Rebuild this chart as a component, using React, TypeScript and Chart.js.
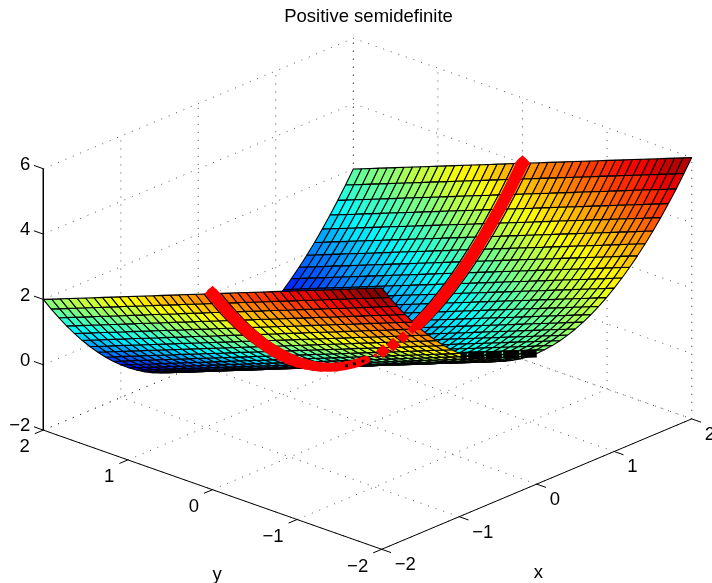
import React, { useEffect, useRef } from "react";
import { Chart, registerables } from "chart.js";

Chart.register(...registerables);

const titleText = "Positive semidefinite";
const xLabelText = "x";
const yLabelText = "y";

const xGrid = [-2,-1.9,-1.8,-1.7,-1.6,-1.5,-1.4,-1.3,-1.2,-1.1,-1,-0.9,-0.8,-0.7,-0.6,-0.5,-0.4,-0.3,-0.2,-0.1,0,0.1,0.2,0.3,0.4,0.5,0.6,0.7,0.8,0.9,1,1.1,1.2,1.3,1.4,1.5,1.6,1.7,1.8,1.9,2];
const yGrid = [-2,-1.9,-1.8,-1.7,-1.6,-1.5,-1.4,-1.3,-1.2,-1.1,-1,-0.9,-0.8,-0.7,-0.6,-0.5,-0.4,-0.3,-0.2,-0.1,0,0.1,0.2,0.3,0.4,0.5,0.6,0.7,0.8,0.9,1,1.1,1.2,1.3,1.4,1.5,1.6,1.7,1.8,1.9,2];
// Height of the trough read along y = 0, for each entry of xGrid.
const troughProfile = [4,3.61,3.24,2.89,2.56,2.25,1.96,1.69,1.44,1.21,1,0.81,0.64,0.49,0.36,0.25,0.16,0.09,0.04,0.01,0,0.01,0.04,0.09,0.16,0.25,0.36,0.49,0.64,0.81,1,1.21,1.44,1.69,1.96,2.25,2.56,2.89,3.24,3.61,4];
// Rise of the surface for each entry of yGrid.
const tiltProfile = [2,1.9,1.8,1.7,1.6,1.5,1.4,1.3,1.2,1.1,1,0.9,0.8,0.7,0.6,0.5,0.4,0.3,0.2,0.1,0,-0.1,-0.2,-0.3,-0.4,-0.5,-0.6,-0.7,-0.8,-0.9,-1,-1.1,-1.2,-1.3,-1.4,-1.5,-1.6,-1.7,-1.8,-1.9,-2];

const xTicks = [-2, -1, 0, 1, 2];
const yTicks = [-2, -1, 0, 1, 2];
const zTicks = [-2, 0, 2, 4, 6];

// Red curve (on y = 0): visible stretches, by x.
const redFrontXs = [-2,-1.9,-1.8,-1.7,-1.6,-1.5,-1.4,-1.3,-1.2,-1.1,-1,-0.9,-0.8,-0.7,-0.6,-0.5,-0.4,-0.3,-0.2,-0.1,-0.02];
const redFrontZs = [4,3.61,3.24,2.89,2.56,2.25,1.96,1.69,1.44,1.21,1,0.81,0.64,0.49,0.36,0.25,0.16,0.09,0.04,0.01,0];
const redFrontWidths = [12,12,12,12,12,12,12,12,12,11.5,11,10.5,10,9.5,9,9,8.5,8.5,8.5,8,8];
const redFragmentXs = [0.1,0.2,0.33,0.46,0.58];
const redFragmentZs = [0.01,0.04,0.11,0.21,0.34];
const redFragmentSizes = [2.5,7,7,6,5];
const redBackXs = [0.65,0.7,0.8,0.9,1,1.1,1.2,1.3,1.4,1.5,1.6,1.7,1.8,1.9,2];
const redBackZs = [0.42,0.49,0.64,0.81,1,1.21,1.44,1.69,1.96,2.25,2.56,2.89,3.24,3.61,4];
// Dark specks left in the red band near the bottom of the trough, by x.
const speckXs = [-0.27,-0.17,-0.06];
const speckZs = [0.07,0.03,0];

// Black line (on x = 0): the visible end of it, by y.
const blackYs = [-2,-1.8,-1.6,-1.4,-1.2,-1.1];
const blackZs = [2,1.8,1.6,1.4,1.2,1.1];

const FONT = '"Liberation Sans", Arial, sans-serif';

function project(x: number, y: number, z: number) {
  return {
    x: 381.7 + 77.5 * (x + 2) - 84.6 * (y + 2),
    y: 549.3 - 32.6 * (x + 2) - 29.8 * (y + 2) - 32.67 * (z + 2),
  };
}

function jet(v: number) {
  const t = (Math.min(63, Math.floor(Math.max(0, v) * 64)) + 0.5) / 64;
  const c = (p: number) => Math.round(255 * Math.max(0, Math.min(1, 1.5 - Math.abs(4 * t - p))));
  return `rgb(${c(3)},${c(2)},${c(1)})`;
}

function lineSet(points: { x: number; y: number }[], extra: object) {
  return {
    type: "scatter",
    data: points,
    showLine: true,
    pointRadius: 0,
    borderColor: "#000",
    borderWidth: 1,
    fill: false,
    tension: 0,
    clip: false,
    ...extra,
  };
}

function buildDatasets() {
  const paint: any[] = [];
  const dots = { borderColor: "rgba(0,0,0,0.85)", borderWidth: 0.8, borderDash: [1, 7] };

  // floor grid
  for (const x of xTicks) paint.push(lineSet([project(x, -2, -2), project(x, 2, -2)], dots));
  for (const y of yTicks) paint.push(lineSet([project(-2, y, -2), project(2, y, -2)], dots));
  // back walls
  for (const x of xTicks) paint.push(lineSet([project(x, 2, -2), project(x, 2, 6)], dots));
  for (const y of yTicks) paint.push(lineSet([project(2, y, -2), project(2, y, 6)], dots));
  for (const z of zTicks) {
    paint.push(lineSet([project(-2, 2, z), project(2, 2, z), project(2, -2, z)], dots));
  }

  // axis lines and tick marks
  const axis = { borderWidth: 1 };
  paint.push(lineSet([project(-2, 2, 6), project(-2, 2, -2), project(-2, -2, -2), project(2, -2, -2)], axis));
  for (const z of zTicks) paint.push(lineSet([project(-2, 2, z), project(-2, 2.11, z)], axis));
  for (const y of yTicks) paint.push(lineSet([project(-2, y, -2), project(-2.11, y, -2)], axis));
  for (const x of xTicks) paint.push(lineSet([project(x, -2, -2), project(x, -2.11, -2)], axis));

  // surface: far cells first
  for (let i = xGrid.length - 2; i >= 0; i--) {
    for (let j = yGrid.length - 2; j >= 0; j--) {
      const z = (a: number, b: number) => troughProfile[a] + tiltProfile[b];
      const corners = [
        project(xGrid[i], yGrid[j], z(i, j)),
        project(xGrid[i + 1], yGrid[j], z(i + 1, j)),
        project(xGrid[i + 1], yGrid[j + 1], z(i + 1, j + 1)),
        project(xGrid[i], yGrid[j + 1], z(i, j + 1)),
        project(xGrid[i], yGrid[j], z(i, j)),
      ];
      paint.push(
        lineSet(corners, {
          fill: "shape",
          backgroundColor: jet((z(i, j) + 2) / 8),
          borderWidth: 1.1,
          borderColor: "#000",
          borderJoinStyle: "bevel",
        })
      );
    }
  }

  // black line
  paint.push(
    lineSet(blackYs.map((y, k) => project(0, y, blackZs[k])), {
      borderWidth: 8,
      borderDash: [16, 1.5],
    })
  );

  // red curve
  const red = "#ff0000";
  const redStyle = { borderColor: red, borderWidth: 12, borderCapStyle: "round" };
  paint.push(
    lineSet(redFrontXs.map((x, k) => project(x, 0, redFrontZs[k])), {
      ...redStyle,
      segment: { borderWidth: (c: any) => redFrontWidths[c.p0DataIndex] },
    })
  );
  paint.push(lineSet(redBackXs.map((x, k) => project(x, 0, redBackZs[k])), redStyle));
  paint.push(
    lineSet(redFragmentXs.map((x, k) => project(x, 0, redFragmentZs[k])), {
      showLine: false,
      pointRadius: redFragmentSizes,
      pointStyle: "rectRot",
      pointBackgroundColor: red,
      pointBorderWidth: 0,
    })
  );
  paint.push(
    lineSet([project(-2, 0, 4), project(2, 0, 4)], {
      showLine: false,
      pointRadius: 8,
      pointStyle: "rectRot",
      pointBackgroundColor: red,
      pointBorderWidth: 0,
    })
  );
  paint.push(
    lineSet(speckXs.map((x, k) => project(x, 0, speckZs[k])), {
      showLine: false,
      pointRadius: 2,
      pointStyle: "rect",
      pointBackgroundColor: "#000",
      pointBorderWidth: 0,
    })
  );

  return paint.reverse();
}

const textPlugin = {
  id: "plotText",
  afterDraw(chart: any) {
    const { ctx, scales } = chart;
    const put = (s: string, x: number, y: number, align: CanvasTextAlign) => {
      ctx.textAlign = align;
      ctx.fillText(s, scales.x.getPixelForValue(x), scales.y.getPixelForValue(y));
    };
    const name = (v: number) => (v < 0 ? "\u2212" + Math.abs(v) : String(v));
    ctx.save();
    ctx.fillStyle = "#000";
    ctx.textBaseline = "middle";
    ctx.font = `18.5px ${FONT}`;
    for (const z of zTicks) {
      const p = project(-2, 2, z);
      put(name(z), p.x - 13, p.y - 4, "right");
    }
    for (const y of yTicks) {
      const p = project(-2, y, -2);
      put(name(y), p.x - 13.5, p.y + 17.3, "right");
    }
    for (const x of xTicks) {
      const p = project(x, -2, -2);
      put(name(x), p.x + 13, p.y + 15.8, "left");
    }
    put(xLabelText, 538.3, 572.5, "center");
    put(yLabelText, 217, 574.5, "center");
    put(titleText, 368.5, 16.5, "center");
    ctx.restore();
  },
};

export default function App() {
  const ref = useRef<HTMLCanvasElement>(null);
  useEffect(() => {
    const chart = new Chart(ref.current as HTMLCanvasElement, {
      type: "scatter",
      data: { datasets: buildDatasets() as any },
      options: {
        animation: false,
        responsive: false,
        events: [],
        layout: { padding: 0, autoPadding: false },
        plugins: { legend: { display: false }, tooltip: { enabled: false }, title: { display: false } },
        scales: {
          x: { type: "linear", display: false, min: 0, max: 712 },
          y: { type: "linear", display: false, min: 0, max: 583, reverse: true },
        },
      },
      plugins: [textPlugin],
    } as any);
    return () => chart.destroy();
  }, []);
  return (
    <div style={{ position: "absolute", left: 0, top: 0, width: 712, height: 583, background: "#fff" }}>
      <canvas ref={ref} width={712} height={583} style={{ display: "block" }} />
    </div>
  );
}
